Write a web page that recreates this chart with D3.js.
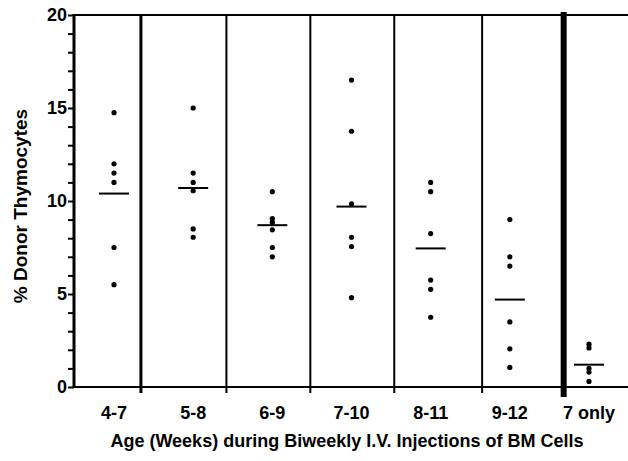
<!DOCTYPE html>
<html>
<head>
<meta charset="utf-8">
<script src="https://cdn.jsdelivr.net/npm/d3@7"></script>
<style>
  body { margin: 0; background: #fff; }
  text { font-family: "Liberation Sans", Arial, sans-serif; font-weight: bold; fill: #000; }
</style>
</head>
<body>
<div id="chart"></div>
<script>
// Chart values
var groups = ["4-7", "5-8", "6-9", "7-10", "8-11", "9-12", "7 only"];
var points = [
  [14.75, 12.0, 11.5, 11.0, 7.5, 5.5],
  [15.0, 11.5, 11.0, 10.55, 8.5, 8.05],
  [10.5, 9.05, 8.85, 8.45, 7.5, 7.0],
  [16.5, 13.75, 9.85, 8.05, 7.55, 4.8],
  [11.0, 10.5, 8.25, 5.75, 5.25, 3.75],
  [9.0, 7.0, 6.5, 3.5, 2.05, 1.05],
  [2.3, 2.1, 1.0, 0.8, 0.3]
];
var means = [10.4, 10.7, 8.7, 9.7, 7.45, 4.7, 1.2];
// group boundaries, in group index units
var dividers = [0.34, 1.42, 2.48, 3.54, 4.65, 5.68];
var yTicks = [0, 5, 10, 15, 20];

var w = 628, h = 461;
var margin = {left: 74, right: 628, top: 15, bottom: 387};

var svg = d3.select("#chart")
  .append("svg")
    .attr("width", w)
    .attr("height", h);

// Scales
var xScale = d3.scaleLinear().domain([0, groups.length - 1]).range([114, 589]);
var yScale = d3.scaleLinear().domain([0, 20]).range([margin.bottom, margin.top]);

// Y axis with minor ticks every 1 unit
var yAxis = d3.axisLeft(yScale)
  .tickValues(d3.range(0, 21, 1))
  .tickSize(6)
  .tickFormat(function(d) { return yTicks.indexOf(d) >= 0 ? d : ""; });

var gy = svg.append("g")
  .attr("transform", "translate(" + margin.left + ",0)")
  .call(yAxis);
gy.select(".domain").remove();
gy.selectAll("line").attr("stroke", "#000").attr("stroke-width", 2);
gy.selectAll("text")
  .attr("x", -7)
  .attr("font-size", "18px")
  .attr("font-family", "Liberation Sans, Arial, sans-serif")
  .attr("font-weight", "bold");

// Frame: left axis line, top and bottom lines
svg.append("line")
  .attr("x1", margin.left).attr("x2", margin.left)
  .attr("y1", margin.top - 1).attr("y2", margin.bottom + 1)
  .attr("stroke", "#000").attr("stroke-width", 3);
svg.append("line")
  .attr("x1", margin.left).attr("x2", margin.right)
  .attr("y1", margin.top).attr("y2", margin.top)
  .attr("stroke", "#000").attr("stroke-width", 2);
svg.append("line")
  .attr("x1", margin.left).attr("x2", margin.right)
  .attr("y1", margin.bottom).attr("y2", margin.bottom)
  .attr("stroke", "#000").attr("stroke-width", 2);

// Group dividers (the last one is heavy)
var last = dividers.length - 1;
svg.selectAll(".divider").data(dividers).enter().append("line")
  .attr("class", "divider")
  .attr("x1", function(d) { return xScale(d); })
  .attr("x2", function(d) { return xScale(d); })
  .attr("y1", function(d, i) { return i == last ? margin.top - 3 : margin.top; })
  .attr("y2", function(d, i) { return i == last ? margin.bottom + 10 : margin.bottom + 6; })
  .attr("stroke", "#000")
  .attr("stroke-width", function(d, i) { return i == last ? 6 : (i == 0 ? 3 : 2); });

// Mean bars
svg.selectAll(".mean").data(means).enter().append("line")
  .attr("class", "mean")
  .attr("x1", function(d, i) { return xScale(i) - 15; })
  .attr("x2", function(d, i) { return xScale(i) + 15; })
  .attr("y1", function(d) { return yScale(d); })
  .attr("y2", function(d) { return yScale(d); })
  .attr("stroke", "#000")
  .attr("stroke-width", 2);

// Dots
points.forEach(function(vals, i) {
  svg.selectAll(".dot" + i).data(vals).enter().append("circle")
    .attr("class", "dot" + i)
    .attr("cx", xScale(i))
    .attr("cy", function(d) { return yScale(d); })
    .attr("r", 2.6)
    .attr("fill", "#000");
});

// Category labels
svg.selectAll(".cat").data(groups).enter().append("text")
  .attr("class", "cat")
  .attr("x", function(d, i) { return xScale(i); })
  .attr("y", 419)
  .attr("text-anchor", "middle")
  .attr("font-size", "18px")
  .text(function(d) { return d; });

// X label
svg.append("text")
  .attr("x", 347)
  .attr("y", 447)
  .attr("text-anchor", "middle")
  .attr("font-size", "18px")
  .text("Age (Weeks) during Biweekly I.V. Injections of BM Cells");

// Y label
svg.append("text")
  .attr("transform", "translate(27,206)rotate(-90)")
  .attr("text-anchor", "middle")
  .attr("font-size", "19px")
  .text("% Donor Thymocytes");
</script>
</body>
</html>
